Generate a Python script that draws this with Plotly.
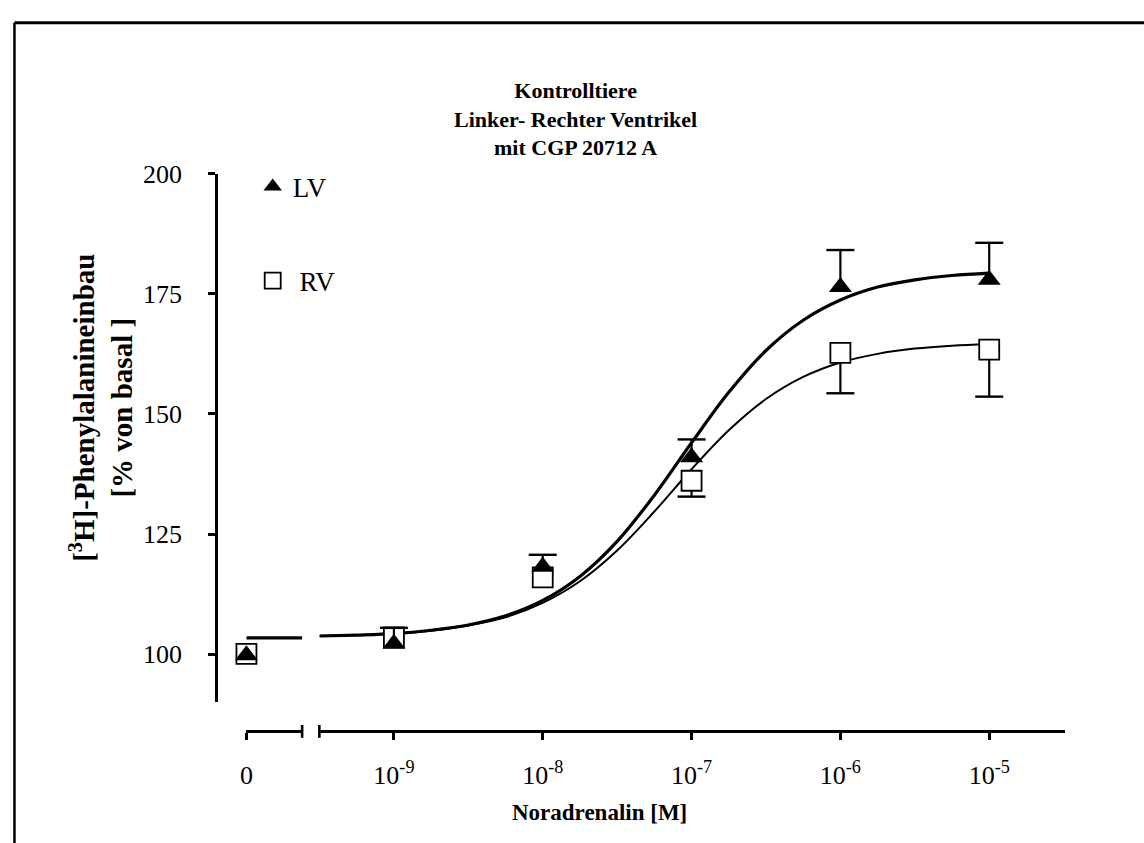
import plotly.graph_objects as go

# ---------------- data ----------------
dose_labels = ["0", "10<sup>-9</sup>", "10<sup>-8</sup>", "10<sup>-7</sup>",
               "10<sup>-6</sup>", "10<sup>-5</sup>"]
dose_exponents = [-9, -8, -7, -6, -5]          # Noradrenalin [M] = 10^exp (after the "0" dose)

lv_mean = [99.8, 102.2, 118.2, 141.0, 176.4, 177.9]
lv_err = [None, 3.3, 2.5, 3.7, 7.7, 7.7]       # drawn upward
rv_mean = [100.1, 103.5, 116.0, 136.1, 162.7, 163.4]
rv_err = [None, None, None, 3.3, 8.4, 9.8]     # drawn downward

# fitted curves
curve_exponents = [-9.5, -9.25, -9.0, -8.75, -8.5, -8.25, -8.0, -7.75, -7.5, -7.25,
                   -7.0, -6.75, -6.5, -6.25, -6.0, -5.75, -5.5, -5.25, -5.0]
lv_curve = [103.8, 104.0, 104.3, 105.0, 106.1, 108.0, 111.2, 116.2, 123.5, 133.1,
            144.0, 154.5, 163.2, 169.5, 173.7, 176.4, 177.9, 178.8, 179.3]
rv_curve = [103.8, 104.0, 104.3, 104.9, 106.0, 107.7, 110.7, 115.2, 121.6, 129.7,
            138.5, 146.6, 153.1, 157.7, 160.7, 162.5, 163.6, 164.2, 164.5]
baseline_level = 103.4    # curve level over the "0" segment

y_ticks = [100, 125, 150, 175, 200]

# ---------------- figure ----------------
W, H = 1144, 843
FONT = "Times New Roman, Liberation Serif, serif"


def px_x(p):
    return p / W


def px_y(p):
    return 1 - p / H


dose = [10.0 ** e for e in dose_exponents]
curve_x = [10.0 ** e for e in curve_exponents]

fig = go.Figure()

# fitted curve over the "0" segment
for w in (3.2, 2.0):
    fig.add_trace(go.Scatter(x=[0, 1], y=[baseline_level, baseline_level], xaxis="x", yaxis="y",
                             mode="lines", line=dict(color="black", width=w),
                             showlegend=False, hoverinfo="skip"))
# fitted curves over the log segment
fig.add_trace(go.Scatter(x=curve_x, y=lv_curve, xaxis="x2", yaxis="y", mode="lines",
                         line=dict(color="black", width=3.2, shape="spline"),
                         showlegend=False, hoverinfo="skip"))
fig.add_trace(go.Scatter(x=curve_x, y=rv_curve, xaxis="x2", yaxis="y", mode="lines",
                         line=dict(color="black", width=2.0, shape="spline"),
                         showlegend=False, hoverinfo="skip"))


def caps(mean, err, sign):
    xs, ys = [], []
    for d, m, e in zip(dose, mean[1:], err[1:]):
        if e is not None:
            xs.append(d)
            ys.append(m + sign * e)
    return xs, ys


sq = dict(symbol="square", size=20, color="white", line=dict(color="black", width=1.8))
tri = dict(symbol="triangle-up", size=20, color="black", line=dict(color="black", width=0))
cap_marker = dict(symbol="line-ew", size=20, line=dict(color="black", width=2.4))

# RV: open squares, error bars downward
rv_e = [e if e is not None else 0 for e in rv_err[1:]]
fig.add_trace(go.Scatter(x=dose, y=rv_mean[1:], xaxis="x2", yaxis="y", mode="markers",
                         marker=sq, name=" RV", legendgroup="rv", legendrank=2,
                         cliponaxis=False,
                         error_y=dict(type="data", symmetric=False, array=[0] * len(rv_e),
                                      arrayminus=rv_e, width=0, thickness=2.2, color="black")))
cx, cy = caps(rv_mean, rv_err, -1)
fig.add_trace(go.Scatter(x=cx, y=cy, xaxis="x2", yaxis="y", mode="markers", marker=cap_marker,
                         showlegend=False, cliponaxis=False, hoverinfo="skip"))
fig.add_trace(go.Scatter(x=[0], y=rv_mean[:1], xaxis="x", yaxis="y", mode="markers",
                         marker=sq, showlegend=False, cliponaxis=False))

# LV: filled triangles, error bars upward
lv_e = [e if e is not None else 0 for e in lv_err[1:]]
fig.add_trace(go.Scatter(x=dose, y=lv_mean[1:], xaxis="x2", yaxis="y", mode="markers",
                         marker=tri, name="LV", legendgroup="lv", legendrank=1,
                         cliponaxis=False,
                         error_y=dict(type="data", symmetric=False, array=lv_e,
                                      arrayminus=[0] * len(lv_e), width=0, thickness=2.2,
                                      color="black")))
cx, cy = caps(lv_mean, lv_err, 1)
fig.add_trace(go.Scatter(x=cx, y=cy, xaxis="x2", yaxis="y", mode="markers", marker=cap_marker,
                         showlegend=False, cliponaxis=False, hoverinfo="skip"))
fig.add_trace(go.Scatter(x=[0], y=lv_mean[:1], xaxis="x", yaxis="y", mode="markers",
                         marker=tri, showlegend=False, cliponaxis=False))

y_top_px, y_bot_px = 162.3, 700.0
px_per_unit = 122.2 / 25
y_min = 200 - (y_bot_px - y_top_px) / px_per_unit
x_axis_px = 729.3

axis_common = dict(showline=True, linecolor="black", linewidth=2.6, ticks="outside",
                   ticklen=7, tickwidth=2.6, tickcolor="black", showgrid=False,
                   zeroline=False, tickfont=dict(family=FONT, size=26, color="black"))

fig.update_layout(
    width=W, height=H, margin=dict(l=0, r=0, t=0, b=0),
    paper_bgcolor="white", plot_bgcolor="white",
    font=dict(family=FONT, color="black"),
    xaxis=dict(domain=[px_x(241.7), px_x(297.7)], range=[0, 1], anchor="free",
               position=px_y(x_axis_px), tickmode="array", tickvals=[0],
               ticktext=dose_labels[:1], ticklabelstandoff=13, **axis_common),
    xaxis2=dict(domain=[px_x(315), px_x(1065)], type="log", range=[-9.501, -4.488],
                anchor="free", position=px_y(x_axis_px), tickmode="array",
                tickvals=dose, ticktext=dose_labels[1:], ticklabelstandoff=13, **axis_common),
    yaxis=dict(domain=[px_y(y_bot_px), px_y(y_top_px)], range=[y_min, 200], anchor="free",
               position=px_x(211), tickmode="array", tickvals=y_ticks,
               ticktext=[str(v) for v in y_ticks], ticklabelstandoff=21, **axis_common),
    legend=dict(x=px_x(248), y=px_y(151), xanchor="left", yanchor="top",
                bgcolor="rgba(0,0,0,0)", font=dict(family=FONT, size=27, color="black"),
                tracegroupgap=56, traceorder="grouped"),
    showlegend=True,
)

# axis break bars
fig.add_shape(type="line", xref="x domain", yref="paper", x0=1, x1=1,
              y0=px_y(723), y1=px_y(736), line=dict(color="black", width=2.6))
fig.add_shape(type="line", xref="x2 domain", yref="paper", x0=0, x1=0,
              y0=px_y(723), y1=px_y(736), line=dict(color="black", width=2.6))
# outer frame (top and left)
fig.add_shape(type="line", xref="paper", yref="paper", x0=px_x(8.5), x1=1,
              y0=px_y(9), y1=px_y(9), line=dict(color="black", width=3))
fig.add_shape(type="line", xref="paper", yref="paper", x0=px_x(8.5), x1=px_x(8.5),
              y0=0, y1=px_y(9), line=dict(color="black", width=2.5))

# titles
fig.add_annotation(xref="paper", yref="paper", x=0.5, y=px_y(107), showarrow=False,
                   text="Kontrolltiere<br>Linker- Rechter Ventrikel<br>mit CGP 20712 A",
                   font=dict(family=FONT, size=22, color="black", weight="bold"),
                   xanchor="center", yanchor="middle", align="center")
fig.add_annotation(xref="paper", yref="paper", x=px_x(597), y=px_y(812), showarrow=False,
                   text="Noradrenalin [M]",
                   font=dict(family=FONT, size=23, color="black", weight="bold"),
                   xanchor="center", yanchor="middle")
fig.add_annotation(xref="paper", yref="paper", x=px_x(96), y=px_y(400), showarrow=False,
                   text="[<sup>3</sup>H]-Phenylalanineinbau<br>[% von basal ]",
                   textangle=-90,
                   font=dict(family=FONT, size=29, color="black", weight="bold"),
                   xanchor="center", yanchor="middle", align="center")

fig.write_html("out.html")
